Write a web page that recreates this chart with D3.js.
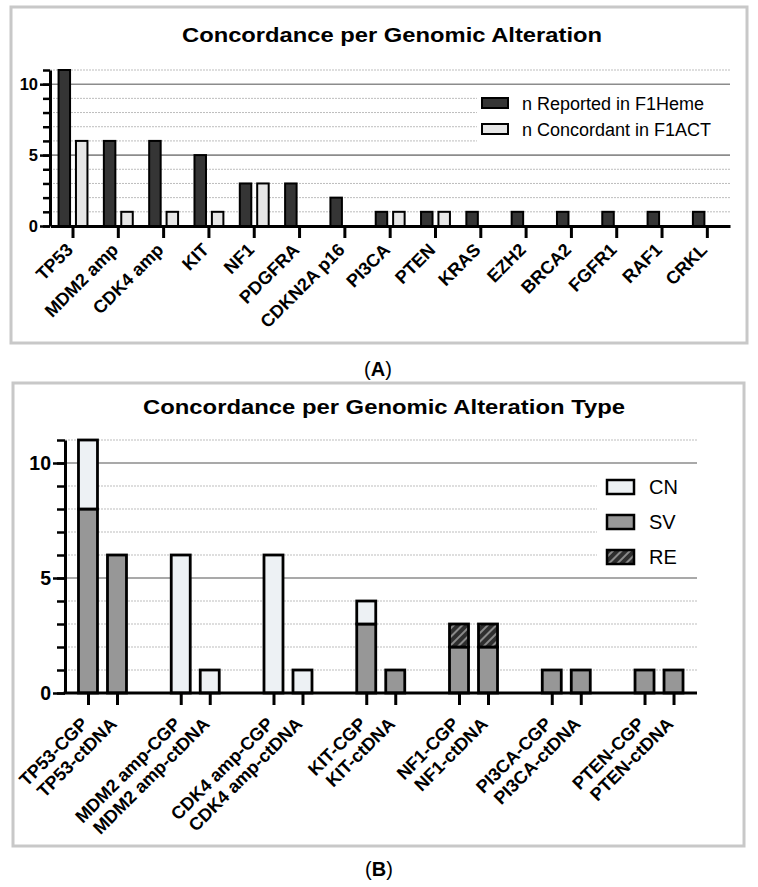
<!DOCTYPE html>
<html>
<head>
<meta charset="utf-8">
<script src="https://cdn.jsdelivr.net/npm/d3@7"></script>
<style>
  html, body { margin: 0; padding: 0; background: #fff; }
  svg { display: block; }
  text { font-family: "Liberation Sans", Arial, Helvetica, sans-serif; }
</style>
</head>
<body>
<svg id="chart" width="758" height="887"></svg>
<script>
// ---------- DATA ----------
// Panel A
const genesA = ["TP53","MDM2 amp","CDK4 amp","KIT","NF1","PDGFRA","CDKN2A p16","PI3CA","PTEN","KRAS","EZH2","BRCA2","FGFR1","RAF1","CRKL"];
const reportedF1Heme = [11,6,6,5,3,3,2,1,1,1,1,1,1,1,1];
const concordantF1ACT = [6,1,1,1,3,0,0,1,1,0,0,0,0,0,0];
const seriesA = ["n Reported in F1Heme","n Concordant in F1ACT"];
const yTicksMajor = [0,5,10];
const yTicksMinor = [0,1,2,3,4,5,6,7,8,9,10,11];

// Panel B
const groupsB = ["TP53","MDM2 amp","CDK4 amp","KIT","NF1","PI3CA","PTEN"];
const assaysB = ["CGP","ctDNA"];
const categoriesB = groupsB.flatMap(g => assaysB.map(a => g + "-" + a));
const svValues = [8,6,0,0,0,0,3,1,2,2,1,1,1,1];
const reValues = [0,0,0,0,0,0,0,0,1,1,0,0,0,0];
const cnValues = [3,0,6,1,6,1,1,0,0,0,0,0,0,0];
const typesB = ["CN","SV","RE"];

// ---------- DRAW ----------
const svg = d3.select("#chart");
const defs = svg.append("defs");
const pat = defs.append("pattern")
  .attr("id","hatch").attr("patternUnits","userSpaceOnUse")
  .attr("width",6).attr("height",6)
  .attr("patternTransform","rotate(45)");
pat.append("rect").attr("width",6).attr("height",6).attr("fill","#2e2e2e");
pat.append("rect").attr("x",0).attr("width",2).attr("height",6).attr("fill","#8a8a8a");

function panelBox(x0,y0,x1,y1){
  svg.append("rect").attr("x",x0).attr("y",y0).attr("width",x1-x0).attr("height",y1-y0)
    .attr("fill","#fff").attr("stroke","#c8c8c8").attr("stroke-width",3);
}

function drawGrid(g, y, x0, x1){
  g.selectAll(".minor").data(yTicksMinor.filter(v => v>0 && v%5!==0)).join("line")
    .attr("x1",x0).attr("x2",x1).attr("y1",d=>y(d)).attr("y2",d=>y(d))
    .attr("stroke","#bdbdbd").attr("stroke-width",1).attr("stroke-dasharray","2,1");
  g.selectAll(".major").data([5,10]).join("line")
    .attr("x1",x0).attr("x2",x1).attr("y1",d=>y(d)).attr("y2",d=>y(d))
    .attr("stroke","#8c8c8c").attr("stroke-width",1.6);
}

function drawYAxis(g, y, x, fontSize, majorLen, minorLen){
  const minor = g.append("g").attr("transform",`translate(${x},0)`)
    .call(d3.axisLeft(y).tickValues(yTicksMinor).tickSize(minorLen).tickSizeOuter(0).tickFormat(""));
  minor.select(".domain").attr("stroke","#000").attr("stroke-width",3);
  minor.selectAll(".tick line").attr("stroke","#000").attr("stroke-width",2.5);
  const major = g.append("g").attr("transform",`translate(${x},0)`)
    .call(d3.axisLeft(y).tickValues(yTicksMajor).tickSize(majorLen).tickPadding(2));
  major.select(".domain").remove();
  major.selectAll(".tick line").attr("stroke","#000").attr("stroke-width",2.5);
  major.selectAll(".tick text").attr("font-size",fontSize).attr("font-weight","bold")
    .attr("fill","#000").attr("font-family","'Liberation Sans', Arial, sans-serif");
}

function fitWidth(sel, w){
  sel.attr("textLength", w).attr("lengthAdjust","spacingAndGlyphs");
}

// ===== Panel A =====
panelBox(11,7,747,343);
const gA = svg.append("g");
const yA = d3.scaleLinear().domain([0,11]).range([226,70]);
const xA = d3.scaleBand().domain(genesA).range([50.35,730]).padding(0);
const cA = d => xA(d) + xA.bandwidth()/2;

drawGrid(gA, yA, 50, 730);
// legend background
gA.append("rect").attr("x",477).attr("y",90).attr("width",253).attr("height",58).attr("fill","#fff");

const barWA = 11.5, offA = 8.7;
gA.selectAll(".barRep").data(genesA).join("rect")
  .attr("x", (d)=> cA(d) - offA - barWA/2)
  .attr("y", (d,i)=> yA(reportedF1Heme[i]))
  .attr("width", barWA)
  .attr("height", (d,i)=> yA(0)-yA(reportedF1Heme[i]))
  .attr("fill","#353535").attr("stroke","#000").attr("stroke-width",2);
gA.selectAll(".barCon").data(genesA.filter((d,i)=>concordantF1ACT[i]>0)).join("rect")
  .attr("x", (d)=> cA(d) + offA - barWA/2)
  .attr("y", (d)=> yA(concordantF1ACT[genesA.indexOf(d)]))
  .attr("width", barWA)
  .attr("height", (d)=> yA(0)-yA(concordantF1ACT[genesA.indexOf(d)]))
  .attr("fill","#e6e6e6").attr("stroke","#000").attr("stroke-width",2);

drawYAxis(gA, yA, 50, "16.5px", 10, 7);

const xAxA = gA.append("g").attr("transform",`translate(0,${yA(0)})`)
  .call(d3.axisBottom(xA).tickSize(12).tickSizeOuter(0).tickFormat(""));
xAxA.select(".domain").attr("stroke","#000").attr("stroke-width",3);
xAxA.selectAll(".tick line").attr("stroke","#000").attr("stroke-width",3);
gA.selectAll(".labA").data(genesA).join("text")
  .attr("transform", d => `translate(${cA(d)+1},${yA(0)+25}) rotate(-45)`)
  .attr("text-anchor","end").attr("font-size","18px").attr("font-weight","bold")
  .text(d=>d);

// legend A
const legA = gA.append("g");
const legAFill = ["#353535","#e6e6e6"];
seriesA.forEach((s,i)=>{
  legA.append("rect").attr("x",482).attr("y",98+i*26).attr("width",26).attr("height",10)
    .attr("fill",legAFill[i]).attr("stroke","#000").attr("stroke-width",2);
  legA.append("text").attr("x",522).attr("y",110+i*26).attr("font-size","18px").text(s);
});

// title A
svg.append("text").attr("x",392).attr("y",42).attr("text-anchor","middle")
  .attr("font-size","20.5px").attr("font-weight","bold").text("Concordance per Genomic Alteration")
  .call(fitWidth, 420);

// (A)
const labA = svg.append("text").attr("x",378).attr("y",376).attr("text-anchor","middle")
  .attr("font-family","'Liberation Serif', 'Times New Roman', serif").attr("font-size","20px");
labA.append("tspan").text("(");
labA.append("tspan").attr("font-weight","bold").text("A");
labA.append("tspan").text(")");

// ===== Panel B =====
panelBox(13,383,744,846);
const gB = svg.append("g");
const yB = d3.scaleLinear().domain([0,11]).range([693,440]);
const xGroup = d3.scaleBand().domain(groupsB).range([56.1,705.4]).padding(0);
const xSub = d3.scaleBand().domain(assaysB).range([-29,29]).padding(0);
const posB = d3.scaleOrdinal().domain(categoriesB)
  .range(groupsB.flatMap(g => assaysB.map(a => xGroup(g) + xGroup.bandwidth()/2 + xSub(a) + xSub.bandwidth()/2)));

drawGrid(gB, yB, 65, 697);
gB.append("rect").attr("x",597).attr("y",470).attr("width",100).attr("height",98).attr("fill","#fff");

const tableB = categoriesB.map((c,i)=>({cat:c, SV:svValues[i], RE:reValues[i], CN:cnValues[i]}));
const stackB = d3.stack().keys(["SV","RE","CN"])(tableB);
const fillB = {CN:"#edf1f4", SV:"#979797", RE:"url(#hatch)"};
const barWB = 19;
stackB.forEach(layer=>{
  gB.append("g").selectAll("rect").data(layer.filter(d=>d[1]-d[0]>0)).join("rect")
    .attr("x", d => posB(d.data.cat) - barWB/2)
    .attr("y", d => yB(d[1]))
    .attr("width", barWB)
    .attr("height", d => yB(d[0]) - yB(d[1]))
    .attr("fill", fillB[layer.key]).attr("stroke","#000").attr("stroke-width",2.8);
});

drawYAxis(gB, yB, 65, "19.5px", 12, 8);

const xAxB = gB.append("g").attr("transform",`translate(0,${yB(0)})`)
  .call(d3.axisBottom(posB).tickSize(12).tickSizeOuter(0).tickFormat(""));
xAxB.select(".domain").remove();
xAxB.selectAll(".tick line").attr("stroke","#000").attr("stroke-width",3);
gB.append("line").attr("x1",63.5).attr("x2",697).attr("y1",yB(0)).attr("y2",yB(0))
  .attr("stroke","#000").attr("stroke-width",3);
gB.selectAll(".labB").data(categoriesB).join("text")
  .attr("transform", d => `translate(${posB(d)+1},${yB(0)+32}) rotate(-45)`)
  .attr("text-anchor","end").attr("font-size","18px").attr("font-weight","bold")
  .text(d=>d);

// legend B
const legB = gB.append("g");
typesB.forEach((t,i)=>{
  legB.append("rect").attr("x",607).attr("y",480+i*35).attr("width",27).attr("height",14)
    .attr("fill",fillB[t]).attr("stroke","#000").attr("stroke-width",2.5);
  legB.append("text").attr("x",649).attr("y",494+i*35).attr("font-size","20px").text(t);
});

// title B
svg.append("text").attr("x",384).attr("y",414).attr("text-anchor","middle")
  .attr("font-size","20.5px").attr("font-weight","bold").text("Concordance per Genomic Alteration Type")
  .call(fitWidth, 482);

// (B)
const labB = svg.append("text").attr("x",379).attr("y",876).attr("text-anchor","middle")
  .attr("font-family","'Liberation Serif', 'Times New Roman', serif").attr("font-size","20px");
labB.append("tspan").text("(");
labB.append("tspan").attr("font-weight","bold").text("B");
labB.append("tspan").text(")");
</script>
</body>
</html>
